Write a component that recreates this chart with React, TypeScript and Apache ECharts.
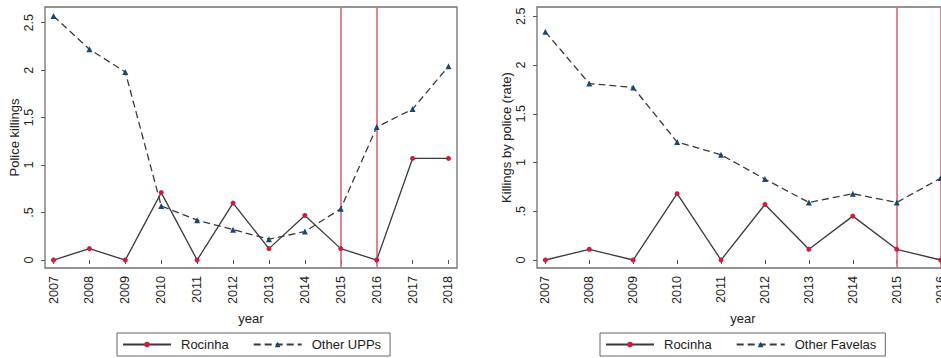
import React, { useEffect, useRef } from "react";
import * as echarts from "echarts";

const leftYears = [2007, 2008, 2009, 2010, 2011, 2012, 2013, 2014, 2015, 2016, 2017, 2018];
const rightYears = [2007, 2008, 2009, 2010, 2011, 2012, 2013, 2014, 2015, 2016];
const rocinhaLeft = [0, 0.12, 0, 0.71, 0, 0.6, 0.12, 0.47, 0.12, 0, 1.07, 1.07];
const otherUPPs = [2.57, 2.22, 1.98, 0.57, 0.42, 0.32, 0.22, 0.3, 0.54, 1.4, 1.59, 2.04];
const rocinhaRight = [0, 0.11, 0, 0.68, 0, 0.57, 0.11, 0.45, 0.11, 0];
const otherFavelas = [2.34, 1.81, 1.77, 1.21, 1.08, 0.83, 0.59, 0.68, 0.59, 0.84];
const yTickValues = [0, 0.5, 1, 1.5, 2, 2.5];
const yTickLabels = ["0", ".5", "1", "1.5", "2", "2.5"];
const markerYears = [2015, 2016];
const leftYTitle = "Police killings";
const rightYTitle = "Killings by police (rate)";
const xTitle = "year";
const leftNames = ["Rocinha", "Other UPPs"];
const rightNames = ["Rocinha", "Other Favelas"];

const FONT = "'Liberation Sans', Arial, Helvetica, sans-serif";
const TXT = "#222";
const RED = "#d11a3c";
const BLUE = "#1a476f";
const LINE = "#3a3a3a";
const VLINE = "#de6278";

function pairs(xs: number[], ys: number[]) {
  return xs.map((x, i) => [x, ys[i]]);
}

function xAxisFor(idx: number, years: number[], pad: number) {
  return {
    type: "value",
    gridIndex: idx,
    min: years[0] - pad,
    max: years[years.length - 1] + pad,
    name: xTitle,
    nameLocation: "middle",
    nameGap: 41,
    nameTextStyle: { fontSize: 13, color: TXT, fontFamily: FONT },
    axisLine: { show: false },
    splitLine: { show: false },
    axisTick: { show: true, length: 4, customValues: years, lineStyle: { color: "#555" } },
    axisLabel: {
      customValues: years,
      rotate: 90,
      margin: 8,
      fontSize: 12.6,
      color: TXT,
      fontFamily: FONT,
      formatter: (v: number) => String(Math.round(v)),
    },
  };
}

function yAxisFor(idx: number, min: number, max: number, title: string, gap: number) {
  return {
    type: "value",
    gridIndex: idx,
    min,
    max,
    name: title,
    nameLocation: "middle",
    nameGap: gap,
    nameTextStyle: { fontSize: 13, color: TXT, fontFamily: FONT },
    axisLine: { show: false },
    splitLine: { show: false },
    axisTick: { show: true, length: 4, customValues: yTickValues, lineStyle: { color: "#555" } },
    axisLabel: {
      customValues: yTickValues,
      rotate: 90,
      margin: 10,
      fontSize: 12.6,
      color: TXT,
      fontFamily: FONT,
      formatter: (v: number) => {
        const i = yTickValues.findIndex((t) => Math.abs(t - v) < 1e-6);
        return i >= 0 ? yTickLabels[i] : "";
      },
    },
  };
}

function rocSeries(name: string, idx: number, xs: number[], ys: number[]) {
  return {
    type: "line",
    name,
    xAxisIndex: idx,
    yAxisIndex: idx,
    data: pairs(xs, ys),
    symbol: "circle",
    symbolSize: 5,
    itemStyle: { color: RED },
    lineStyle: { color: LINE, width: 1.3, type: "solid" },
    z: 3,
    markLine: {
      silent: true,
      symbol: "none",
      label: { show: false },
      lineStyle: { color: VLINE, width: 1.6, type: "solid" },
      data: markerYears.map((y) => ({ xAxis: y })),
      z: 1,
    },
  };
}

function otherSeries(name: string, idx: number, xs: number[], ys: number[]) {
  return {
    type: "line",
    name,
    xAxisIndex: idx,
    yAxisIndex: idx,
    data: pairs(xs, ys),
    symbol: "triangle",
    symbolSize: 6,
    itemStyle: { color: BLUE },
    lineStyle: { color: LINE, width: 1.3, type: [7, 4] },
    z: 2,
  };
}

function legendFor(names: string[], left: number) {
  return {
    data: names,
    left,
    top: 333,
    orient: "horizontal",
    itemWidth: 48,
    itemHeight: 7,
    itemGap: 24,
    padding: [5, 9, 5, 5],
    borderColor: "#666",
    borderWidth: 1,
    selectedMode: false,
    textStyle: { fontSize: 13, color: TXT, fontFamily: FONT, padding: [0, 0, 0, 5] },
  };
}

export default function App() {
  const ref = useRef<HTMLDivElement>(null);
  useEffect(() => {
    if (!ref.current) return;
    const chart = echarts.init(ref.current, undefined, { renderer: "svg" });
    const gridBase = { show: true, borderColor: "#707070", borderWidth: 1.3, backgroundColor: "#fff", containLabel: false };
    chart.setOption({
      animation: false,
      backgroundColor: "#fff",
      textStyle: { fontFamily: FONT },
      grid: [
        { ...gridBase, left: 45, top: 7, width: 412, height: 261 },
        { ...gridBase, left: 537, top: 7, width: 412, height: 261 },
      ],
      xAxis: [xAxisFor(0, leftYears, 0.237), xAxisFor(1, rightYears, 0.19)],
      yAxis: [
        yAxisFor(0, -0.084, 2.665, leftYTitle, 20),
        yAxisFor(1, -0.082, 2.595, rightYTitle, 20),
      ],
      legend: [legendFor(leftNames, 117), legendFor(rightNames, 600)],
      series: [
        rocSeries(leftNames[0], 0, leftYears, rocinhaLeft),
        otherSeries(leftNames[1], 0, leftYears, otherUPPs),
        rocSeries(rightNames[0], 1, rightYears, rocinhaRight),
        otherSeries(rightNames[1], 1, rightYears, otherFavelas),
      ],
    });
    return () => chart.dispose();
  }, []);
  return (
    <div style={{ position: "absolute", left: 0, top: 0, width: 941, height: 358, overflow: "hidden", background: "#fff" }}>
      <div ref={ref} style={{ width: 970, height: 358 }} />
    </div>
  );
}
